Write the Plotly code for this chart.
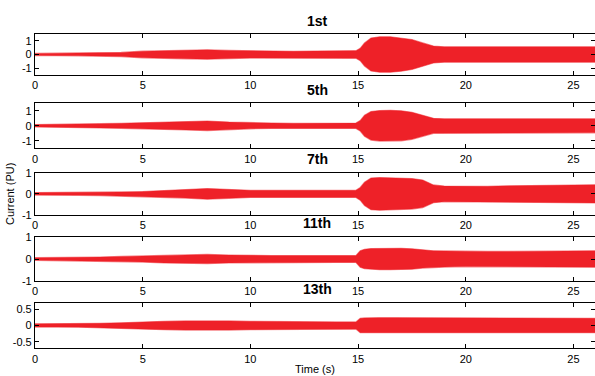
import plotly.graph_objects as go

# Time grid (s) at which the envelope of each harmonic current was read
t = [0, 1, 2, 3, 4, 5, 6, 7, 8, 9, 10, 11, 12, 13, 14, 14.9, 15.1, 15.3, 15.6,
     16, 16.5, 17, 17.5, 18, 18.5, 19, 20, 21, 22, 23, 24, 25, 26]

# Envelope amplitude (PU) of each harmonic current
amp_1st = [0.08, 0.09, 0.10, 0.11, 0.15, 0.24, 0.29, 0.32, 0.34, 0.30, 0.26, 0.24,
           0.23, 0.25, 0.27, 0.28, 0.45, 0.85, 1.20, 1.30, 1.30, 1.22, 1.10, 0.85,
           0.62, 0.56, 0.55, 0.55, 0.55, 0.55, 0.56, 0.56, 0.56]
amp_5th = [0.08, 0.09, 0.12, 0.14, 0.17, 0.20, 0.23, 0.28, 0.32, 0.25, 0.20, 0.18,
           0.17, 0.17, 0.18, 0.18, 0.35, 0.70, 0.95, 1.02, 1.03, 1.00, 0.90, 0.70,
           0.50, 0.47, 0.47, 0.47, 0.47, 0.47, 0.47, 0.47, 0.47]
amp_7th = [0.06, 0.06, 0.07, 0.08, 0.09, 0.11, 0.17, 0.20, 0.25, 0.21, 0.17, 0.17,
           0.18, 0.17, 0.17, 0.17, 0.30, 0.55, 0.75, 0.77, 0.76, 0.74, 0.72, 0.65,
           0.42, 0.37, 0.35, 0.36, 0.38, 0.39, 0.41, 0.42, 0.43]
amp_11th = [0.06, 0.065, 0.07, 0.09, 0.12, 0.14, 0.18, 0.20, 0.21, 0.18, 0.16, 0.16,
            0.16, 0.16, 0.16, 0.16, 0.38, 0.45, 0.48, 0.49, 0.49, 0.49, 0.47, 0.42,
            0.38, 0.37, 0.35, 0.35, 0.35, 0.35, 0.36, 0.37, 0.38]
amp_13th = [0.05, 0.05, 0.055, 0.065, 0.08, 0.11, 0.13, 0.14, 0.15, 0.14, 0.13, 0.12,
            0.11, 0.11, 0.11, 0.11, 0.22, 0.23, 0.24, 0.24, 0.24, 0.24, 0.24, 0.24,
            0.23, 0.23, 0.22, 0.22, 0.22, 0.22, 0.22, 0.22, 0.22]

titles = ["1st", "5th", "7th", "11th", "13th"]
series = [amp_1st, amp_5th, amp_7th, amp_11th, amp_13th]
y_ranges = [[-1.5, 1.5], [-1.5, 1.5], [-1, 1], [-1, 1], [-0.7, 0.68]]
y_ticks = [[-1, 0, 1], [-1, 0, 1], [-1, 0, 1], [-1, 0, 1], [-0.5, 0, 0.5]]
y_ticktext = [["-1", "0", "1"], ["-1", "0", "1"], ["-1", "0", "1"], ["-1", "0", "1"],
              ["-0.5", "0", "0.5"]]
x_ticks = [0, 5, 10, 15, 20, 25]

W, H = 595, 376
# pixel top/bottom of each panel
panels_px = [(34, 75), (103.3, 148.3), (172.7, 215), (237.3, 280.7), (303.3, 348.3)]
title_y_px = [21, 90, 159, 223, 289]

RED = "#EE2128"
FONT = "Liberation Sans, Arial, Helvetica, sans-serif"

fig = go.Figure()
layout = dict(
    width=W, height=H, margin=dict(l=0, r=0, t=0, b=0, pad=0, autoexpand=False),
    paper_bgcolor="white", plot_bgcolor="white", showlegend=False,
    font=dict(family=FONT, size=11, color="black"),
)
annotations = []
for i, (name, amp) in enumerate(zip(titles, series)):
    n = i + 1
    xa = "x" if n == 1 else f"x{n}"
    ya = "y" if n == 1 else f"y{n}"
    upper = list(amp)
    lower = [-a for a in amp]
    fig.add_trace(go.Scatter(
        x=t + t[::-1], y=upper + lower[::-1], fill="toself",
        fillcolor=RED, mode="lines",
        line=dict(color="rgba(238,33,40,0.55)", width=1.2),
        xaxis=xa, yaxis=ya, hoverinfo="skip"))
    top, bot = panels_px[i]
    dom = [1 - bot / H, 1 - top / H]
    layout[f"xaxis{'' if n == 1 else n}"] = dict(
        domain=[35 / W, 1], range=[0, 26.0], anchor=ya,
        tickvals=x_ticks, ticks="inside", ticklen=4, tickcolor="black",
        showline=True, linecolor="black", linewidth=1.2, mirror="ticks",
        showgrid=False, zeroline=False, automargin=False,
        tickfont=dict(size=11, family=FONT))
    layout[f"yaxis{'' if n == 1 else n}"] = dict(
        domain=dom, range=y_ranges[i], anchor=xa,
        tickvals=y_ticks[i], ticktext=y_ticktext[i], ticks="inside", ticklen=4,
        tickcolor="black", showline=True, linecolor="black", linewidth=1.2,
        mirror="ticks", showgrid=False, zeroline=False, automargin=False,
        tickfont=dict(size=11, family=FONT))
    annotations.append(dict(
        text=f"<b>{name}</b>", x=317 / W, y=1 - title_y_px[i] / H, xref="paper",
        yref="paper", showarrow=False, xanchor="center", yanchor="middle",
        font=dict(size=14, family=FONT)))

annotations.append(dict(text="Current (PU)", x=10 / W, y=1 - 194 / H, xref="paper",
                        yref="paper", showarrow=False, textangle=-90,
                        xanchor="center", yanchor="middle",
                        font=dict(size=11, family=FONT)))
annotations.append(dict(text="Time (s)", x=315 / W, y=1 - 369 / H, xref="paper",
                        yref="paper", showarrow=False, xanchor="center",
                        yanchor="middle", font=dict(size=11, family=FONT)))
layout["annotations"] = annotations
fig.update_layout(**layout)
fig.write_html("out.html", config={"displayModeBar": False},
               post_script="document.body.style.margin='0';document.body.style.overflow='hidden';")
